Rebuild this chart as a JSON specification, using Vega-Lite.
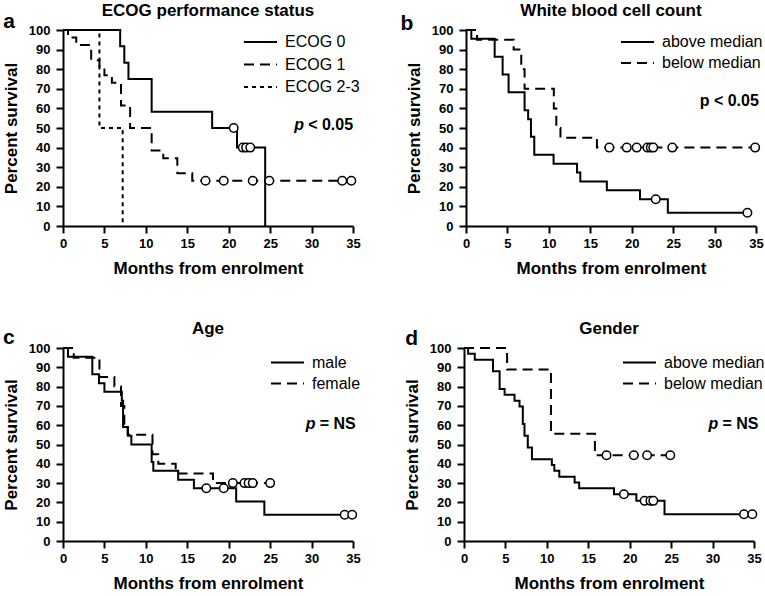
{
  "$schema": "https://vega.github.io/schema/vega-lite/v6.json",
  "padding": {"left": 2, "top": 2, "right": 0, "bottom": 0},
  "background": "white",
  "datasets": {
    "curves": [
      {"panel": "a", "group": "ECOG 0", "t": 0, "s": 100},
      {"panel": "a", "group": "ECOG 0", "t": 6.9, "s": 91.7},
      {"panel": "a", "group": "ECOG 0", "t": 7.4, "s": 83.3},
      {"panel": "a", "group": "ECOG 0", "t": 7.9, "s": 75},
      {"panel": "a", "group": "ECOG 0", "t": 10.7, "s": 58.3},
      {"panel": "a", "group": "ECOG 0", "t": 18.0, "s": 50},
      {"panel": "a", "group": "ECOG 0", "t": 21.0, "s": 40},
      {"panel": "a", "group": "ECOG 0", "t": 24.4, "s": 0},
      {"panel": "a", "group": "ECOG 1", "t": 0, "s": 100},
      {"panel": "a", "group": "ECOG 1", "t": 0.6, "s": 96.2},
      {"panel": "a", "group": "ECOG 1", "t": 1.6, "s": 92.3},
      {"panel": "a", "group": "ECOG 1", "t": 3.4, "s": 84.6},
      {"panel": "a", "group": "ECOG 1", "t": 4.4, "s": 80.8},
      {"panel": "a", "group": "ECOG 1", "t": 5.0, "s": 76.9},
      {"panel": "a", "group": "ECOG 1", "t": 5.9, "s": 73.1},
      {"panel": "a", "group": "ECOG 1", "t": 7.0, "s": 61.5},
      {"panel": "a", "group": "ECOG 1", "t": 8.1, "s": 50},
      {"panel": "a", "group": "ECOG 1", "t": 10.7, "s": 38.5},
      {"panel": "a", "group": "ECOG 1", "t": 12.1, "s": 34.6},
      {"panel": "a", "group": "ECOG 1", "t": 13.8, "s": 26.9},
      {"panel": "a", "group": "ECOG 1", "t": 15.6, "s": 23.1},
      {"panel": "a", "group": "ECOG 1", "t": 34.8, "s": 23.1},
      {"panel": "a", "group": "ECOG 2-3", "t": 0, "s": 100},
      {"panel": "a", "group": "ECOG 2-3", "t": 4.4, "s": 50},
      {"panel": "a", "group": "ECOG 2-3", "t": 7.2, "s": 0},
      {"panel": "b", "group": "above median", "t": 0, "s": 100},
      {"panel": "b", "group": "above median", "t": 0.64, "s": 95.5},
      {"panel": "b", "group": "above median", "t": 3.46, "s": 86.4},
      {"panel": "b", "group": "above median", "t": 4.42, "s": 77.3},
      {"panel": "b", "group": "above median", "t": 5.14, "s": 68.2},
      {"panel": "b", "group": "above median", "t": 7.07, "s": 59.1},
      {"panel": "b", "group": "above median", "t": 7.5, "s": 54.5},
      {"panel": "b", "group": "above median", "t": 7.84, "s": 45.5},
      {"panel": "b", "group": "above median", "t": 8.24, "s": 36.4},
      {"panel": "b", "group": "above median", "t": 10.57, "s": 31.8},
      {"panel": "b", "group": "above median", "t": 13.4, "s": 27.3},
      {"panel": "b", "group": "above median", "t": 13.8, "s": 22.7},
      {"panel": "b", "group": "above median", "t": 17.0, "s": 18.2},
      {"panel": "b", "group": "above median", "t": 21.0, "s": 13.6},
      {"panel": "b", "group": "above median", "t": 24.36, "s": 6.8},
      {"panel": "b", "group": "above median", "t": 33.96, "s": 6.8},
      {"panel": "b", "group": "below median", "t": 0, "s": 100},
      {"panel": "b", "group": "below median", "t": 1.33, "s": 95},
      {"panel": "b", "group": "below median", "t": 5.75, "s": 90},
      {"panel": "b", "group": "below median", "t": 6.67, "s": 80},
      {"panel": "b", "group": "below median", "t": 7.07, "s": 70},
      {"panel": "b", "group": "below median", "t": 10.6, "s": 60},
      {"panel": "b", "group": "below median", "t": 10.9, "s": 50},
      {"panel": "b", "group": "below median", "t": 11.4, "s": 45},
      {"panel": "b", "group": "below median", "t": 15.8, "s": 40},
      {"panel": "b", "group": "below median", "t": 34.9, "s": 40},
      {"panel": "c", "group": "male", "t": 0, "s": 100},
      {"panel": "c", "group": "male", "t": 0.6, "s": 95.5},
      {"panel": "c", "group": "male", "t": 3.54, "s": 86.4},
      {"panel": "c", "group": "male", "t": 4.34, "s": 81.8},
      {"panel": "c", "group": "male", "t": 5.0, "s": 77.3},
      {"panel": "c", "group": "male", "t": 7.1, "s": 72.7},
      {"panel": "c", "group": "male", "t": 7.25, "s": 59.1},
      {"panel": "c", "group": "male", "t": 7.84, "s": 54.5},
      {"panel": "c", "group": "male", "t": 8.25, "s": 50},
      {"panel": "c", "group": "male", "t": 10.7, "s": 40.9},
      {"panel": "c", "group": "male", "t": 10.9, "s": 36.4},
      {"panel": "c", "group": "male", "t": 13.9, "s": 31.8},
      {"panel": "c", "group": "male", "t": 15.8, "s": 27.3},
      {"panel": "c", "group": "male", "t": 20.9, "s": 20.5},
      {"panel": "c", "group": "male", "t": 24.3, "s": 13.6},
      {"panel": "c", "group": "male", "t": 34.9, "s": 13.6},
      {"panel": "c", "group": "female", "t": 0, "s": 100},
      {"panel": "c", "group": "female", "t": 1.3, "s": 95},
      {"panel": "c", "group": "female", "t": 4.4, "s": 85},
      {"panel": "c", "group": "female", "t": 6.2, "s": 80},
      {"panel": "c", "group": "female", "t": 7.0, "s": 70},
      {"panel": "c", "group": "female", "t": 7.4, "s": 60},
      {"panel": "c", "group": "female", "t": 7.8, "s": 55},
      {"panel": "c", "group": "female", "t": 10.8, "s": 45},
      {"panel": "c", "group": "female", "t": 11.5, "s": 40},
      {"panel": "c", "group": "female", "t": 13.6, "s": 35},
      {"panel": "c", "group": "female", "t": 18.1, "s": 30},
      {"panel": "c", "group": "female", "t": 25.0, "s": 30},
      {"panel": "d", "group": "above median", "t": 0, "s": 100},
      {"panel": "d", "group": "above median", "t": 0.5, "s": 97},
      {"panel": "d", "group": "above median", "t": 1.3, "s": 93.9},
      {"panel": "d", "group": "above median", "t": 3.5, "s": 87.9},
      {"panel": "d", "group": "above median", "t": 4.3, "s": 78.8},
      {"panel": "d", "group": "above median", "t": 4.9, "s": 75.8},
      {"panel": "d", "group": "above median", "t": 6.1, "s": 72.7},
      {"panel": "d", "group": "above median", "t": 6.7, "s": 69.7},
      {"panel": "d", "group": "above median", "t": 7.1, "s": 60.6},
      {"panel": "d", "group": "above median", "t": 7.3, "s": 54.5},
      {"panel": "d", "group": "above median", "t": 7.7, "s": 48.5},
      {"panel": "d", "group": "above median", "t": 8.2, "s": 42.4},
      {"panel": "d", "group": "above median", "t": 10.6, "s": 39.4},
      {"panel": "d", "group": "above median", "t": 10.9, "s": 36.4},
      {"panel": "d", "group": "above median", "t": 11.5, "s": 33.3},
      {"panel": "d", "group": "above median", "t": 13.35, "s": 30.3},
      {"panel": "d", "group": "above median", "t": 13.9, "s": 27.3},
      {"panel": "d", "group": "above median", "t": 18.1, "s": 24.2},
      {"panel": "d", "group": "above median", "t": 20.8, "s": 20.8},
      {"panel": "d", "group": "above median", "t": 24.2, "s": 13.9},
      {"panel": "d", "group": "above median", "t": 34.8, "s": 13.9},
      {"panel": "d", "group": "below median", "t": 0, "s": 100},
      {"panel": "d", "group": "below median", "t": 5.2, "s": 88.9},
      {"panel": "d", "group": "below median", "t": 10.5, "s": 55.6},
      {"panel": "d", "group": "below median", "t": 15.8, "s": 44.4},
      {"panel": "d", "group": "below median", "t": 24.9, "s": 44.4}
    ],
    "censor": [
      {"panel": "a", "t": 20.6, "s": 50},
      {"panel": "a", "t": 21.7, "s": 40},
      {"panel": "a", "t": 22.1, "s": 40},
      {"panel": "a", "t": 22.6, "s": 40},
      {"panel": "a", "t": 17.2, "s": 23.1},
      {"panel": "a", "t": 19.4, "s": 23.1},
      {"panel": "a", "t": 22.9, "s": 23.1},
      {"panel": "a", "t": 24.9, "s": 23.1},
      {"panel": "a", "t": 33.7, "s": 23.1},
      {"panel": "a", "t": 34.8, "s": 23.1},
      {"panel": "b", "t": 22.9, "s": 13.6},
      {"panel": "b", "t": 33.96, "s": 6.8},
      {"panel": "b", "t": 17.3, "s": 40},
      {"panel": "b", "t": 19.4, "s": 40},
      {"panel": "b", "t": 20.6, "s": 40},
      {"panel": "b", "t": 21.9, "s": 40},
      {"panel": "b", "t": 22.3, "s": 40},
      {"panel": "b", "t": 22.6, "s": 40},
      {"panel": "b", "t": 24.9, "s": 40},
      {"panel": "b", "t": 34.9, "s": 40},
      {"panel": "c", "t": 17.3, "s": 27.3},
      {"panel": "c", "t": 19.4, "s": 27.3},
      {"panel": "c", "t": 34.0, "s": 13.6},
      {"panel": "c", "t": 34.9, "s": 13.6},
      {"panel": "c", "t": 20.5, "s": 30},
      {"panel": "c", "t": 21.9, "s": 30},
      {"panel": "c", "t": 22.4, "s": 30},
      {"panel": "c", "t": 22.9, "s": 30},
      {"panel": "c", "t": 25.0, "s": 30},
      {"panel": "d", "t": 19.3, "s": 24.2},
      {"panel": "d", "t": 21.8, "s": 20.8},
      {"panel": "d", "t": 22.5, "s": 20.8},
      {"panel": "d", "t": 22.85, "s": 20.8},
      {"panel": "d", "t": 33.8, "s": 13.9},
      {"panel": "d", "t": 34.8, "s": 13.9},
      {"panel": "d", "t": 17.2, "s": 44.4},
      {"panel": "d", "t": 20.5, "s": 44.4},
      {"panel": "d", "t": 22.1, "s": 44.4},
      {"panel": "d", "t": 24.9, "s": 44.4}
    ],
    "dummy": [{}]
  },
  "vconcat": [
    {
      "hconcat": [
        {
          "width": 290, "height": 196,
          "layer": [
            {
              "data": {"name": "curves"},
              "transform": [{"filter": "datum.panel === 'a'"}],
              "mark": {"type": "line", "interpolate": "step-after", "color": "black", "strokeWidth": 2},
              "encoding": {
                "x": {"field": "t", "type": "quantitative", "scale": {"domain": [0, 35], "nice": false}, "axis": {"values": [0, 5, 10, 15, 20, 25, 30, 35], "labelOverlap": false, "title": "Months from enrolment"}},
                "y": {"field": "s", "type": "quantitative", "scale": {"domain": [0, 100], "nice": false}, "axis": {"values": [0, 10, 20, 30, 40, 50, 60, 70, 80, 90, 100], "labelOverlap": false, "title": "Percent survival"}},
                "strokeDash": {"field": "group", "type": "nominal", "scale": {"domain": ["ECOG 0", "ECOG 1", "ECOG 2-3"], "range": [[1, 0], [10, 6], [4, 4]]}, "legend": {"legendX": 180, "legendY": 3, "rowPadding": 4.5}}
              }
            },
            {
              "data": {"name": "censor"},
              "transform": [{"filter": "datum.panel === 'a'"}],
              "mark": {"type": "point", "shape": "circle", "filled": true, "fill": "white", "stroke": "black", "strokeWidth": 1.5, "size": 72, "opacity": 1},
              "encoding": {
                "x": {"field": "t", "type": "quantitative", "axis": {"values": [0, 5, 10, 15, 20, 25, 30, 35], "labelOverlap": false, "title": "Months from enrolment"}},
                "y": {"field": "s", "type": "quantitative", "axis": {"values": [0, 10, 20, 30, 40, 50, 60, 70, 80, 90, 100], "labelOverlap": false, "title": "Percent survival"}}
              }
            },
            {
              "data": {"name": "dummy"},
              "mark": {"type": "text", "text": "ECOG performance status", "fontWeight": "bold", "fontSize": 17, "align": "center", "baseline": "alphabetic"},
              "encoding": {
                "x": {"datum": 17.5, "type": "quantitative", "axis": {"values": [0, 5, 10, 15, 20, 25, 30, 35], "labelOverlap": false, "title": "Months from enrolment"}},
                "y": {"datum": 107.1, "type": "quantitative", "axis": {"values": [0, 10, 20, 30, 40, 50, 60, 70, 80, 90, 100], "labelOverlap": false, "title": "Percent survival"}}
              }
            },
            {
              "data": {"name": "dummy"},
              "mark": {"type": "text", "text": "p", "fontStyle": "italic", "fontWeight": "bold", "fontSize": 16, "align": "left", "baseline": "alphabetic"},
              "encoding": {
                "x": {"datum": 27.9, "type": "quantitative", "axis": {"values": [0, 5, 10, 15, 20, 25, 30, 35], "labelOverlap": false, "title": "Months from enrolment"}},
                "y": {"datum": 49, "type": "quantitative", "axis": {"values": [0, 10, 20, 30, 40, 50, 60, 70, 80, 90, 100], "labelOverlap": false, "title": "Percent survival"}}
              }
            },
            {
              "data": {"name": "dummy"},
              "mark": {"type": "text", "text": "< 0.05", "fontWeight": "bold", "fontSize": 16, "align": "left", "baseline": "alphabetic", "dx": 14},
              "encoding": {
                "x": {"datum": 27.9, "type": "quantitative", "axis": {"values": [0, 5, 10, 15, 20, 25, 30, 35], "labelOverlap": false, "title": "Months from enrolment"}},
                "y": {"datum": 49, "type": "quantitative", "axis": {"values": [0, 10, 20, 30, 40, 50, 60, 70, 80, 90, 100], "labelOverlap": false, "title": "Percent survival"}}
              }
            },
            {
              "data": {"name": "dummy"},
              "mark": {"type": "text", "text": "a", "fontWeight": "bold", "fontSize": 21, "align": "left", "baseline": "alphabetic"},
              "encoding": {
                "x": {"datum": -7.2, "type": "quantitative", "axis": {"values": [0, 5, 10, 15, 20, 25, 30, 35], "labelOverlap": false, "title": "Months from enrolment"}},
                "y": {"datum": 100.9, "type": "quantitative", "axis": {"values": [0, 10, 20, 30, 40, 50, 60, 70, 80, 90, 100], "labelOverlap": false, "title": "Percent survival"}}
              }
            }
          ]
        },
        {
          "width": 290, "height": 196,
          "layer": [
            {
              "data": {"name": "curves"},
              "transform": [{"filter": "datum.panel === 'b'"}],
              "mark": {"type": "line", "interpolate": "step-after", "color": "black", "strokeWidth": 2},
              "encoding": {
                "x": {"field": "t", "type": "quantitative", "scale": {"domain": [0, 35], "nice": false}, "axis": {"values": [0, 5, 10, 15, 20, 25, 30, 35], "labelOverlap": false, "title": "Months from enrolment"}},
                "y": {"field": "s", "type": "quantitative", "scale": {"domain": [0, 100], "nice": false}, "axis": {"values": [0, 10, 20, 30, 40, 50, 60, 70, 80, 90, 100], "labelOverlap": false, "title": "Percent survival"}},
                "strokeDash": {"field": "group", "type": "nominal", "scale": {"domain": ["above median", "below median"], "range": [[1, 0], [10, 6]]}, "legend": {"legendX": 154, "legendY": 3, "rowPadding": 3}}
              }
            },
            {
              "data": {"name": "censor"},
              "transform": [{"filter": "datum.panel === 'b'"}],
              "mark": {"type": "point", "shape": "circle", "filled": true, "fill": "white", "stroke": "black", "strokeWidth": 1.5, "size": 72, "opacity": 1},
              "encoding": {
                "x": {"field": "t", "type": "quantitative", "axis": {"values": [0, 5, 10, 15, 20, 25, 30, 35], "labelOverlap": false, "title": "Months from enrolment"}},
                "y": {"field": "s", "type": "quantitative", "axis": {"values": [0, 10, 20, 30, 40, 50, 60, 70, 80, 90, 100], "labelOverlap": false, "title": "Percent survival"}}
              }
            },
            {
              "data": {"name": "dummy"},
              "mark": {"type": "text", "text": "White blood cell count", "fontWeight": "bold", "fontSize": 17, "align": "center", "baseline": "alphabetic"},
              "encoding": {
                "x": {"datum": 17.5, "type": "quantitative", "axis": {"values": [0, 5, 10, 15, 20, 25, 30, 35], "labelOverlap": false, "title": "Months from enrolment"}},
                "y": {"datum": 107.1, "type": "quantitative", "axis": {"values": [0, 10, 20, 30, 40, 50, 60, 70, 80, 90, 100], "labelOverlap": false, "title": "Percent survival"}}
              }
            },
            {
              "data": {"name": "dummy"},
              "mark": {"type": "text", "text": "p < 0.05", "fontWeight": "bold", "fontSize": 16, "align": "left", "baseline": "alphabetic"},
              "encoding": {
                "x": {"datum": 28.2, "type": "quantitative", "axis": {"values": [0, 5, 10, 15, 20, 25, 30, 35], "labelOverlap": false, "title": "Months from enrolment"}},
                "y": {"datum": 61.4, "type": "quantitative", "axis": {"values": [0, 10, 20, 30, 40, 50, 60, 70, 80, 90, 100], "labelOverlap": false, "title": "Percent survival"}}
              }
            },
            {
              "data": {"name": "dummy"},
              "mark": {"type": "text", "text": "b", "fontWeight": "bold", "fontSize": 21, "align": "left", "baseline": "alphabetic"},
              "encoding": {
                "x": {"datum": -7.9, "type": "quantitative", "axis": {"values": [0, 5, 10, 15, 20, 25, 30, 35], "labelOverlap": false, "title": "Months from enrolment"}},
                "y": {"datum": 100, "type": "quantitative", "axis": {"values": [0, 10, 20, 30, 40, 50, 60, 70, 80, 90, 100], "labelOverlap": false, "title": "Percent survival"}}
              }
            }
          ]
        }
      ],
      "spacing": 39,
      "resolve": {"scale": {"strokeDash": "independent"}, "legend": {"strokeDash": "independent"}}
    },
    {
      "hconcat": [
        {
          "width": 290, "height": 193,
          "layer": [
            {
              "data": {"name": "curves"},
              "transform": [{"filter": "datum.panel === 'c'"}],
              "mark": {"type": "line", "interpolate": "step-after", "color": "black", "strokeWidth": 2},
              "encoding": {
                "x": {"field": "t", "type": "quantitative", "scale": {"domain": [0, 35], "nice": false}, "axis": {"values": [0, 5, 10, 15, 20, 25, 30, 35], "labelOverlap": false, "title": "Months from enrolment"}},
                "y": {"field": "s", "type": "quantitative", "scale": {"domain": [0, 100], "nice": false}, "axis": {"values": [0, 10, 20, 30, 40, 50, 60, 70, 80, 90, 100], "labelOverlap": false, "title": "Percent survival"}},
                "strokeDash": {"field": "group", "type": "nominal", "scale": {"domain": ["male", "female"], "range": [[1, 0], [10, 6]]}, "legend": {"legendX": 207, "legendY": 5.5, "rowPadding": 3}}
              }
            },
            {
              "data": {"name": "censor"},
              "transform": [{"filter": "datum.panel === 'c'"}],
              "mark": {"type": "point", "shape": "circle", "filled": true, "fill": "white", "stroke": "black", "strokeWidth": 1.5, "size": 72, "opacity": 1},
              "encoding": {
                "x": {"field": "t", "type": "quantitative", "axis": {"values": [0, 5, 10, 15, 20, 25, 30, 35], "labelOverlap": false, "title": "Months from enrolment"}},
                "y": {"field": "s", "type": "quantitative", "axis": {"values": [0, 10, 20, 30, 40, 50, 60, 70, 80, 90, 100], "labelOverlap": false, "title": "Percent survival"}}
              }
            },
            {
              "data": {"name": "dummy"},
              "mark": {"type": "text", "text": "Age", "fontWeight": "bold", "fontSize": 17, "align": "center", "baseline": "alphabetic"},
              "encoding": {
                "x": {"datum": 17.5, "type": "quantitative", "axis": {"values": [0, 5, 10, 15, 20, 25, 30, 35], "labelOverlap": false, "title": "Months from enrolment"}},
                "y": {"datum": 107.5, "type": "quantitative", "axis": {"values": [0, 10, 20, 30, 40, 50, 60, 70, 80, 90, 100], "labelOverlap": false, "title": "Percent survival"}}
              }
            },
            {
              "data": {"name": "dummy"},
              "mark": {"type": "text", "text": "p", "fontStyle": "italic", "fontWeight": "bold", "fontSize": 16, "align": "left", "baseline": "alphabetic"},
              "encoding": {
                "x": {"datum": 29.3, "type": "quantitative", "axis": {"values": [0, 5, 10, 15, 20, 25, 30, 35], "labelOverlap": false, "title": "Months from enrolment"}},
                "y": {"datum": 58.2, "type": "quantitative", "axis": {"values": [0, 10, 20, 30, 40, 50, 60, 70, 80, 90, 100], "labelOverlap": false, "title": "Percent survival"}}
              }
            },
            {
              "data": {"name": "dummy"},
              "mark": {"type": "text", "text": "= NS", "fontWeight": "bold", "fontSize": 16, "align": "left", "baseline": "alphabetic", "dx": 14},
              "encoding": {
                "x": {"datum": 29.3, "type": "quantitative", "axis": {"values": [0, 5, 10, 15, 20, 25, 30, 35], "labelOverlap": false, "title": "Months from enrolment"}},
                "y": {"datum": 58.2, "type": "quantitative", "axis": {"values": [0, 10, 20, 30, 40, 50, 60, 70, 80, 90, 100], "labelOverlap": false, "title": "Percent survival"}}
              }
            },
            {
              "data": {"name": "dummy"},
              "mark": {"type": "text", "text": "c", "fontWeight": "bold", "fontSize": 21, "align": "left", "baseline": "alphabetic"},
              "encoding": {
                "x": {"datum": -7.24, "type": "quantitative", "axis": {"values": [0, 5, 10, 15, 20, 25, 30, 35], "labelOverlap": false, "title": "Months from enrolment"}},
                "y": {"datum": 102.3, "type": "quantitative", "axis": {"values": [0, 10, 20, 30, 40, 50, 60, 70, 80, 90, 100], "labelOverlap": false, "title": "Percent survival"}}
              }
            }
          ]
        },
        {
          "width": 290, "height": 193,
          "layer": [
            {
              "data": {"name": "curves"},
              "transform": [{"filter": "datum.panel === 'd'"}],
              "mark": {"type": "line", "interpolate": "step-after", "color": "black", "strokeWidth": 2},
              "encoding": {
                "x": {"field": "t", "type": "quantitative", "scale": {"domain": [0, 35], "nice": false}, "axis": {"values": [0, 5, 10, 15, 20, 25, 30, 35], "labelOverlap": false, "title": "Months from enrolment"}},
                "y": {"field": "s", "type": "quantitative", "scale": {"domain": [0, 100], "nice": false}, "axis": {"values": [0, 10, 20, 30, 40, 50, 60, 70, 80, 90, 100], "labelOverlap": false, "title": "Percent survival"}},
                "strokeDash": {"field": "group", "type": "nominal", "scale": {"domain": ["above median", "below median"], "range": [[1, 0], [10, 6]]}, "legend": {"legendX": 158, "legendY": 5.5, "rowPadding": 3}}
              }
            },
            {
              "data": {"name": "censor"},
              "transform": [{"filter": "datum.panel === 'd'"}],
              "mark": {"type": "point", "shape": "circle", "filled": true, "fill": "white", "stroke": "black", "strokeWidth": 1.5, "size": 72, "opacity": 1},
              "encoding": {
                "x": {"field": "t", "type": "quantitative", "axis": {"values": [0, 5, 10, 15, 20, 25, 30, 35], "labelOverlap": false, "title": "Months from enrolment"}},
                "y": {"field": "s", "type": "quantitative", "axis": {"values": [0, 10, 20, 30, 40, 50, 60, 70, 80, 90, 100], "labelOverlap": false, "title": "Percent survival"}}
              }
            },
            {
              "data": {"name": "dummy"},
              "mark": {"type": "text", "text": "Gender", "fontWeight": "bold", "fontSize": 17, "align": "center", "baseline": "alphabetic"},
              "encoding": {
                "x": {"datum": 17.5, "type": "quantitative", "axis": {"values": [0, 5, 10, 15, 20, 25, 30, 35], "labelOverlap": false, "title": "Months from enrolment"}},
                "y": {"datum": 107.5, "type": "quantitative", "axis": {"values": [0, 10, 20, 30, 40, 50, 60, 70, 80, 90, 100], "labelOverlap": false, "title": "Percent survival"}}
              }
            },
            {
              "data": {"name": "dummy"},
              "mark": {"type": "text", "text": "p", "fontStyle": "italic", "fontWeight": "bold", "fontSize": 16, "align": "left", "baseline": "alphabetic"},
              "encoding": {
                "x": {"datum": 29.5, "type": "quantitative", "axis": {"values": [0, 5, 10, 15, 20, 25, 30, 35], "labelOverlap": false, "title": "Months from enrolment"}},
                "y": {"datum": 58.2, "type": "quantitative", "axis": {"values": [0, 10, 20, 30, 40, 50, 60, 70, 80, 90, 100], "labelOverlap": false, "title": "Percent survival"}}
              }
            },
            {
              "data": {"name": "dummy"},
              "mark": {"type": "text", "text": "= NS", "fontWeight": "bold", "fontSize": 16, "align": "left", "baseline": "alphabetic", "dx": 14},
              "encoding": {
                "x": {"datum": 29.5, "type": "quantitative", "axis": {"values": [0, 5, 10, 15, 20, 25, 30, 35], "labelOverlap": false, "title": "Months from enrolment"}},
                "y": {"datum": 58.2, "type": "quantitative", "axis": {"values": [0, 10, 20, 30, 40, 50, 60, 70, 80, 90, 100], "labelOverlap": false, "title": "Percent survival"}}
              }
            },
            {
              "data": {"name": "dummy"},
              "mark": {"type": "text", "text": "d", "fontWeight": "bold", "fontSize": 21, "align": "left", "baseline": "alphabetic"},
              "encoding": {
                "x": {"datum": -7.1, "type": "quantitative", "axis": {"values": [0, 5, 10, 15, 20, 25, 30, 35], "labelOverlap": false, "title": "Months from enrolment"}},
                "y": {"datum": 101.4, "type": "quantitative", "axis": {"values": [0, 10, 20, 30, 40, 50, 60, 70, 80, 90, 100], "labelOverlap": false, "title": "Percent survival"}}
              }
            }
          ]
        }
      ],
      "spacing": 42,
      "resolve": {"scale": {"strokeDash": "independent"}, "legend": {"strokeDash": "independent"}}
    }
  ],
  "spacing": 43,
  "resolve": {"scale": {"strokeDash": "independent"}, "legend": {"strokeDash": "independent"}},
  "config": {
    "font": "Liberation Sans",
    "view": {"stroke": null},
    "axis": {
      "grid": false,
      "domainColor": "black", "domainWidth": 2,
      "tickColor": "black", "tickWidth": 2, "tickSize": 7,
      "labelFont": "Liberation Sans", "labelFontSize": 13, "labelFontWeight": "bold", "labelColor": "black",
      "labelFlush": false, "labelOverlap": false,
      "titleFont": "Liberation Sans", "titleFontSize": 17, "titleFontWeight": "bold", "titleColor": "black"
    },
    "axisX": {"labelPadding": 4, "titlePadding": 10},
    "axisY": {"labelPadding": 6, "titlePadding": 8},
    "legend": {
      "orient": "none", "title": null,
      "symbolType": "stroke", "symbolSize": 1089, "symbolStrokeWidth": 2, "symbolStrokeColor": "black",
      "labelFont": "Liberation Sans", "labelFontSize": 16, "labelColor": "black", "labelOffset": 7,
      "clipHeight": 18, "padding": 0
    }
  }
}
